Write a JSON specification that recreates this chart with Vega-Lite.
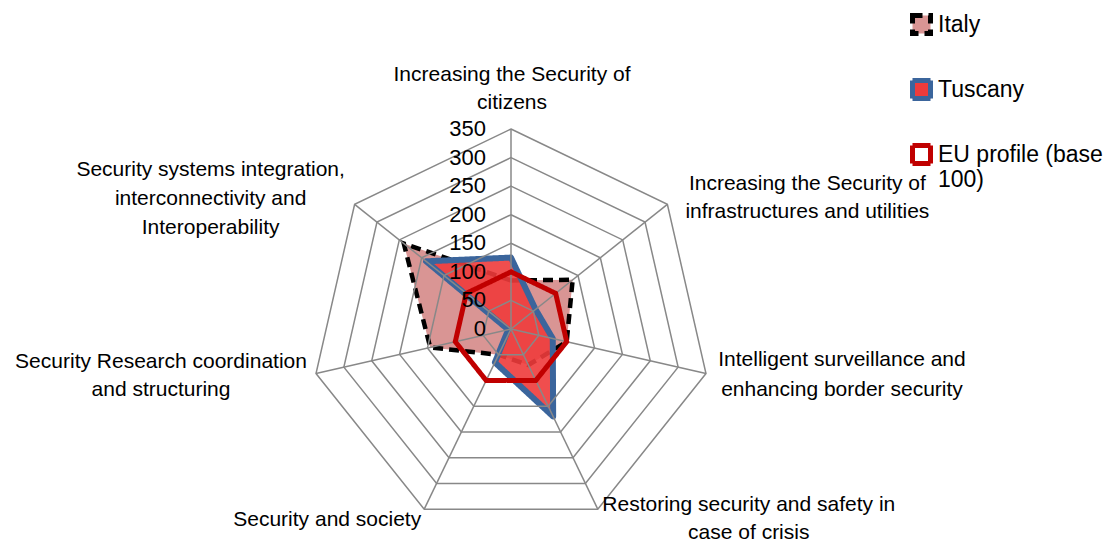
{
  "$schema": "https://vega.github.io/schema/vega-lite/v6.json",
  "width": 1104,
  "height": 542,
  "padding": 0,
  "autosize": {"type": "none"},
  "background": "white",
  "config": {"view": {"stroke": null}, "font": "Liberation Sans"},
  "datasets": {
    "profiles": [
      {"series": "Italy", "k": 0, "value": 85},
      {"series": "Italy", "k": 1, "value": 138},
      {"series": "Italy", "k": 2, "value": 100},
      {"series": "Italy", "k": 3, "value": 70},
      {"series": "Italy", "k": 4, "value": 50},
      {"series": "Italy", "k": 5, "value": 145},
      {"series": "Italy", "k": 6, "value": 240},
      {"series": "Tuscany", "k": 0, "value": 125},
      {"series": "Tuscany", "k": 1, "value": 55},
      {"series": "Tuscany", "k": 2, "value": 75},
      {"series": "Tuscany", "k": 3, "value": 170},
      {"series": "Tuscany", "k": 4, "value": 65},
      {"series": "Tuscany", "k": 5, "value": 5},
      {"series": "Tuscany", "k": 6, "value": 190},
      {"series": "EU profile (base 100)", "k": 0, "value": 100},
      {"series": "EU profile (base 100)", "k": 1, "value": 100},
      {"series": "EU profile (base 100)", "k": 2, "value": 100},
      {"series": "EU profile (base 100)", "k": 3, "value": 100},
      {"series": "EU profile (base 100)", "k": 4, "value": 100},
      {"series": "EU profile (base 100)", "k": 5, "value": 100},
      {"series": "EU profile (base 100)", "k": 6, "value": 100}
    ],
    "cats": [
      {"k": 0, "label": ["Increasing the Security of", "citizens"]},
      {"k": 1, "label": ["Increasing the Security of", "infrastructures and utilities"]},
      {"k": 2, "label": ["Intelligent surveillance and", "enhancing border security"]},
      {"k": 3, "label": ["Restoring security and safety in", "case of crisis"]},
      {"k": 4, "label": ["Security and society"]},
      {"k": 5, "label": ["Security Research coordination", "and structuring"]},
      {"k": 6, "label": ["Security systems integration,", "interconnectivity and", "Interoperability"]}
    ],
    "rings": [
      {"level": 50, "k": [0, 1, 2, 3, 4, 5, 6]},
      {"level": 100, "k": [0, 1, 2, 3, 4, 5, 6]},
      {"level": 150, "k": [0, 1, 2, 3, 4, 5, 6]},
      {"level": 200, "k": [0, 1, 2, 3, 4, 5, 6]},
      {"level": 250, "k": [0, 1, 2, 3, 4, 5, 6]},
      {"level": 300, "k": [0, 1, 2, 3, 4, 5, 6]},
      {"level": 350, "k": [0, 1, 2, 3, 4, 5, 6]}
    ],
    "ticks": [
      {"level": 0}, {"level": 50}, {"level": 100}, {"level": 150},
      {"level": 200}, {"level": 250}, {"level": 300}, {"level": 350}
    ]
  },
  "encoding": {
    "x": {"field": "px", "type": "quantitative", "axis": null, "scale": {"domain": [-894.25, 1037.75], "nice": false, "zero": false}},
    "y": {"field": "py", "type": "quantitative", "axis": null, "scale": {"domain": [-372.75, 575.75], "nice": false, "zero": false}}
  },
  "layer": [
    {
      "data": {"name": "profiles"},
      "transform": [
        {"filter": "datum.series == 'Italy'"},
        {"calculate": "datum.value * sin(datum.k * 2 * PI / 7)", "as": "px"},
        {"calculate": "datum.value * cos(datum.k * 2 * PI / 7)", "as": "py"}
      ],
      "mark": {"type": "line", "interpolate": "linear-closed", "strokeWidth": 4.5},
      "encoding": {
        "order": {"field": "k", "type": "quantitative"},
        "stroke": {"field": "series", "type": "nominal", "title": null,
          "scale": {"domain": ["Italy", "Tuscany", "EU profile (base 100)"], "range": ["#000000", "#3B659C", "#C00000"]},
          "legend": {"orient": "none", "legendX": 910, "legendY": 13, "padding": 0, "symbolType": "square", "symbolSize": 324, "symbolStrokeWidth": 5, "labelFontSize": 23, "labelColor": "#000000", "labelOffset": 5, "rowPadding": 26, "labelLimit": 300,
            "labelExpr": "datum.label == 'EU profile (base 100)' ? ['EU profile (base', '100)'] : datum.label"}},
        "fill": {"field": "series", "type": "nominal", "title": null,
          "scale": {"domain": ["Italy", "Tuscany", "EU profile (base 100)"], "range": ["#D99594", "#EE3B3B", "#FFFFFF"]}},
        "strokeDash": {"field": "series", "type": "nominal", "title": null,
          "scale": {"domain": ["Italy", "Tuscany", "EU profile (base 100)"], "range": [[10, 6], [1, 0], [1, 0]]}}
      }
    },
    {
      "data": {"name": "profiles"},
      "transform": [
        {"filter": "datum.series == 'Tuscany'"},
        {"calculate": "datum.value * sin(datum.k * 2 * PI / 7)", "as": "px"},
        {"calculate": "datum.value * cos(datum.k * 2 * PI / 7)", "as": "py"}
      ],
      "mark": {"type": "line", "interpolate": "linear-closed", "strokeWidth": 6, "fillOpacity": 0.9, "strokeJoin": "round"},
      "encoding": {
        "order": {"field": "k", "type": "quantitative"},
        "stroke": {"field": "series", "type": "nominal", "title": null},
        "fill": {"field": "series", "type": "nominal", "title": null},
        "strokeDash": {"field": "series", "type": "nominal", "title": null}
      }
    },
    {
      "data": {"name": "rings"},
      "transform": [
        {"flatten": ["k"]},
        {"calculate": "datum.level * sin(datum.k * 2 * PI / 7)", "as": "px"},
        {"calculate": "datum.level * cos(datum.k * 2 * PI / 7)", "as": "py"}
      ],
      "mark": {"type": "line", "interpolate": "linear-closed", "stroke": "#888888", "strokeWidth": 1.5},
      "encoding": {
        "order": {"field": "k", "type": "quantitative"},
        "detail": {"field": "level", "type": "quantitative"}
      }
    },
    {
      "data": {"name": "cats"},
      "transform": [
        {"calculate": "350 * sin(datum.k * 2 * PI / 7)", "as": "px"},
        {"calculate": "350 * cos(datum.k * 2 * PI / 7)", "as": "py"}
      ],
      "mark": {"type": "rule", "stroke": "#888888", "strokeWidth": 1.5},
      "encoding": {
        "x2": {"datum": 0},
        "y2": {"datum": 0}
      }
    },
    {
      "data": {"name": "profiles"},
      "transform": [
        {"filter": "datum.series == 'EU profile (base 100)'"},
        {"calculate": "datum.value * sin(datum.k * 2 * PI / 7)", "as": "px"},
        {"calculate": "datum.value * cos(datum.k * 2 * PI / 7)", "as": "py"}
      ],
      "mark": {"type": "line", "interpolate": "linear-closed", "strokeWidth": 5, "fill": null},
      "encoding": {
        "order": {"field": "k", "type": "quantitative"},
        "stroke": {"field": "series", "type": "nominal", "title": null},
        "strokeDash": {"field": "series", "type": "nominal", "title": null}
      }
    },
    {
      "data": {"name": "ticks"},
      "transform": [
        {"calculate": "0", "as": "px"},
        {"calculate": "datum.level", "as": "py"}
      ],
      "mark": {"type": "text", "align": "right", "baseline": "middle", "dx": -25, "fontSize": 22, "color": "#000000"},
      "encoding": {"text": {"field": "level", "type": "quantitative"}}
    },
    {
      "data": {"name": "cats"},
      "transform": [
        {"filter": "datum.k == 0"},
        {"calculate": "350 * sin(datum.k * 2 * PI / 7)", "as": "px"},
        {"calculate": "350 * cos(datum.k * 2 * PI / 7)", "as": "py"}
      ],
      "mark": {"type": "text", "align": "center", "baseline": "middle", "dx": 1, "dy": -54, "fontSize": 21, "lineHeight": 28, "color": "#000000"},
      "encoding": {"text": {"field": "label"}}
    },
    {
      "data": {"name": "cats"},
      "transform": [
        {"filter": "datum.k == 1"},
        {"calculate": "350 * sin(datum.k * 2 * PI / 7)", "as": "px"},
        {"calculate": "350 * cos(datum.k * 2 * PI / 7)", "as": "py"}
      ],
      "mark": {"type": "text", "align": "center", "baseline": "middle", "dx": 140, "dy": -20, "fontSize": 21, "lineHeight": 28, "color": "#000000"},
      "encoding": {"text": {"field": "label"}}
    },
    {
      "data": {"name": "cats"},
      "transform": [
        {"filter": "datum.k == 2"},
        {"calculate": "350 * sin(datum.k * 2 * PI / 7)", "as": "px"},
        {"calculate": "350 * cos(datum.k * 2 * PI / 7)", "as": "py"}
      ],
      "mark": {"type": "text", "align": "center", "baseline": "middle", "dx": 136, "dy": -14, "fontSize": 21, "lineHeight": 30, "color": "#000000"},
      "encoding": {"text": {"field": "label"}}
    },
    {
      "data": {"name": "cats"},
      "transform": [
        {"filter": "datum.k == 3"},
        {"calculate": "350 * sin(datum.k * 2 * PI / 7)", "as": "px"},
        {"calculate": "350 * cos(datum.k * 2 * PI / 7)", "as": "py"}
      ],
      "mark": {"type": "text", "align": "center", "baseline": "middle", "dx": 151, "dy": -4, "fontSize": 21, "lineHeight": 28, "color": "#000000"},
      "encoding": {"text": {"field": "label"}}
    },
    {
      "data": {"name": "cats"},
      "transform": [
        {"filter": "datum.k == 4"},
        {"calculate": "350 * sin(datum.k * 2 * PI / 7)", "as": "px"},
        {"calculate": "350 * cos(datum.k * 2 * PI / 7)", "as": "py"}
      ],
      "mark": {"type": "text", "align": "center", "baseline": "middle", "dx": -97, "dy": 11, "fontSize": 21, "lineHeight": 28, "color": "#000000"},
      "encoding": {"text": {"field": "label"}}
    },
    {
      "data": {"name": "cats"},
      "transform": [
        {"filter": "datum.k == 5"},
        {"calculate": "350 * sin(datum.k * 2 * PI / 7)", "as": "px"},
        {"calculate": "350 * cos(datum.k * 2 * PI / 7)", "as": "py"}
      ],
      "mark": {"type": "text", "align": "center", "baseline": "middle", "dx": -155, "dy": -12, "fontSize": 21, "lineHeight": 28, "color": "#000000"},
      "encoding": {"text": {"field": "label"}}
    },
    {
      "data": {"name": "cats"},
      "transform": [
        {"filter": "datum.k == 6"},
        {"calculate": "350 * sin(datum.k * 2 * PI / 7)", "as": "px"},
        {"calculate": "350 * cos(datum.k * 2 * PI / 7)", "as": "py"}
      ],
      "mark": {"type": "text", "align": "center", "baseline": "middle", "dx": -144, "dy": -34, "fontSize": 21, "lineHeight": 29, "color": "#000000"},
      "encoding": {"text": {"field": "label"}}
    }
  ]
}
